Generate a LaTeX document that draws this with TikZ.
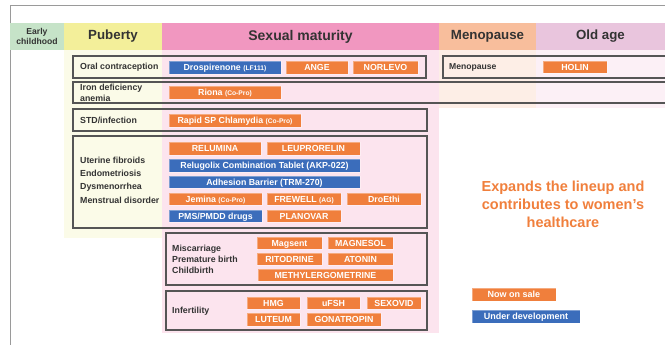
\documentclass[tikz,border=0pt]{standalone}
\usepackage{fontspec}
\setmainfont{Liberation Sans}
\definecolor{orangeC}{HTML}{F07F3C}
\definecolor{blueC}{HTML}{3B6DBB}
\definecolor{txtC}{HTML}{333333}
\definecolor{boxC}{HTML}{555555}
\definecolor{frameC}{HTML}{9A9A9A}
\definecolor{hGreen}{HTML}{C6E3C8}
\definecolor{hYellow}{HTML}{F3EF9A}
\definecolor{hPink}{HTML}{F197C0}
\definecolor{hPeach}{HTML}{F8BE9C}
\definecolor{hPurple}{HTML}{E9C5DD}
\definecolor{bYellow}{HTML}{FBFBE8}
\definecolor{bPink}{HTML}{FCE4EE}
\definecolor{bPeach}{HTML}{FDEEE6}
\definecolor{bPurple}{HTML}{FCF0F6}
\newcommand\smtxt{\bfseries\fontsize{6.7}{7}\selectfont}
\begin{document}
\begin{tikzpicture}[x=1pt,y=-1pt,
  pill/.style={text=white, font=\bfseries\fontsize{8.8}{9}\selectfont, inner sep=0pt, minimum height=12.5pt, text height=6.4pt, text depth=0pt, draw=white, draw opacity=0.35, line width=0.4pt},
  pillO/.style={pill, fill=orangeC},
  pillB/.style={pill, fill=blueC},
  grp/.style={draw=boxC, line width=1.1pt},
  lbl/.style={anchor=west, text=txtC, font=\bfseries\fontsize{8.8}{10.5}\selectfont, align=left, inner sep=0pt},
  hdr/.style={text=txtC, font=\bfseries\fontsize{13.3}{15}\selectfont, inner sep=0pt, minimum height=27pt, align=center}
]
\useasboundingbox (0,0) rectangle (665,345);
% frame
\draw[frameC, line width=0.9pt] (10,345) -- (10,5) -- (665,5);
% body backgrounds
\fill[bYellow] (64,50) rectangle (162,238);
\fill[bPink] (162,50) rectangle (439,333);
\fill[bPeach] (439,50) rectangle (536,108);
\fill[bPurple] (536,50) rectangle (665,108);
% headers
\node[hdr, fill=hGreen, minimum width=54pt, font=\bfseries\fontsize{8.6}{10}\selectfont] (hEarly) at (37,36.5) {Early\\childhood};
\node[hdr, fill=hYellow, minimum width=98pt] (hPub) at (113,36.5) {Puberty};
\node[hdr, fill=hPink, minimum width=277pt, font=\bfseries\fontsize{14}{15}\selectfont] (hSex) at (300.5,36.5) {Sexual maturity};
\node[hdr, fill=hPeach, minimum width=97pt] (hMeno) at (487.5,36.5) {Menopause};
\node[hdr, fill=hPurple, minimum width=129pt] (hOld) at (600.5,36.5) {Old age};
% group boxes
\draw[grp] (73,56) rectangle (426,78);
\draw[grp] (443,56) rectangle (670,78);
\draw[grp] (73,82) rectangle (670,103);
\draw[grp] (73,109) rectangle (427,131);
\draw[grp] (73,136) rectangle (427,228);
\draw[grp] (166,233) rectangle (427,285);
\draw[grp] (166,291) rectangle (427,330);
% labels
\node[lbl] (lOral) at (80,67) {Oral contraception};
\node[lbl, font=\bfseries\fontsize{8.6}{10.5}\selectfont] (lMenoBox) at (449,67) {Menopause};
\node[lbl] (lIron) at (80,93) {Iron deficiency\\anemia};
\node[lbl] (lStd) at (80,120) {STD/infection};
\node[lbl, font=\bfseries\fontsize{8.8}{13.4}\selectfont] (lUter) at (80,180) {Uterine fibroids\\Endometriosis\\Dysmenorrhea\\Menstrual disorder};
\node[lbl, font=\bfseries\fontsize{8.8}{11}\selectfont] (lMisc) at (172,259) {Miscarriage\\Premature birth\\Childbirth};
\node[lbl] (lInf) at (172,311) {Infertility};
% pills
\node[pillB, minimum width=112pt] (pDros) at (225,67.5) {Drospirenone {\smtxt(LF111)}};
\node[pillO, minimum width=62pt] (pAnge) at (317,67.5) {ANGE};
\node[pillO, minimum width=65pt] (pNorl) at (385.5,67.5) {NORLEVO};
\node[pillO, minimum width=64pt] (pHolin) at (575,67) {HOLIN};
\node[pillO, minimum width=112pt] (pRiona) at (225,92.5) {Riona {\smtxt(Co-Pro)}};
\node[pillO, minimum width=132pt] (pRapid) at (235,120.5) {Rapid SP Chlamydia {\smtxt(Co-Pro)}};
\node[pillO, minimum width=92pt] (pRelu) at (215,148.5) {RELUMINA};
\node[pillO, minimum width=93pt] (pLeup) at (313.5,148.5) {LEUPRORELIN};
\node[pillB, minimum width=191pt] (pRelug) at (264.5,165.5) {Relugolix Combination Tablet (AKP-022)};
\node[pillB, minimum width=191pt] (pAdh) at (264.5,182) {Adhesion Barrier (TRM-270)};
\node[pillO, minimum width=93pt] (pJem) at (215.5,199) {Jemina {\smtxt(Co-Pro)}};
\node[pillO, minimum width=74pt] (pFrew) at (304,199) {FREWELL {\smtxt(AG)}};
\node[pillO, minimum width=74pt] (pDroE) at (384,199) {DroEthi};
\node[pillB, minimum width=93pt] (pPms) at (215.5,216) {PMS/PMDD drugs};
\node[pillO, minimum width=74pt] (pPlan) at (304,216) {PLANOVAR};
\node[pillO, minimum width=65pt] (pMags) at (289.5,243) {Magsent};
\node[pillO, minimum width=65pt] (pMagn) at (360.5,243) {MAGNESOL};
\node[pillO, minimum width=65pt] (pRito) at (289.5,259) {RITODRINE};
\node[pillO, minimum width=65pt] (pAton) at (360.5,259) {ATONIN};
\node[pillO, minimum width=135pt] (pMeth) at (325.5,275) {METHYLERGOMETRINE};
\node[pillO, minimum width=53pt] (pHmg) at (273.5,303) {HMG};
\node[pillO, minimum width=53pt] (pUfsh) at (333.5,303) {uFSH};
\node[pillO, minimum width=54pt] (pSexo) at (394,303) {SEXOVID};
\node[pillO, minimum width=53pt] (pLut) at (273.5,319.5) {LUTEUM};
\node[pillO, minimum width=74pt] (pGona) at (344,319.5) {GONATROPIN};
% tagline
\node[text=orangeC, font=\bfseries\fontsize{14.5}{18}\selectfont, align=center, inner sep=0pt] (tag) at (563,204) {Expands the lineup and\\contributes to women's\\healthcare};
% legend
\node[pillO, minimum width=84pt, font=\bfseries\fontsize{9}{9}\selectfont] (legO) at (514,294.5) {Now on sale};
\node[pillB, minimum width=108pt, font=\bfseries\fontsize{9}{9}\selectfont] (legB) at (526,316.5) {Under development};
\end{tikzpicture}
\end{document}
